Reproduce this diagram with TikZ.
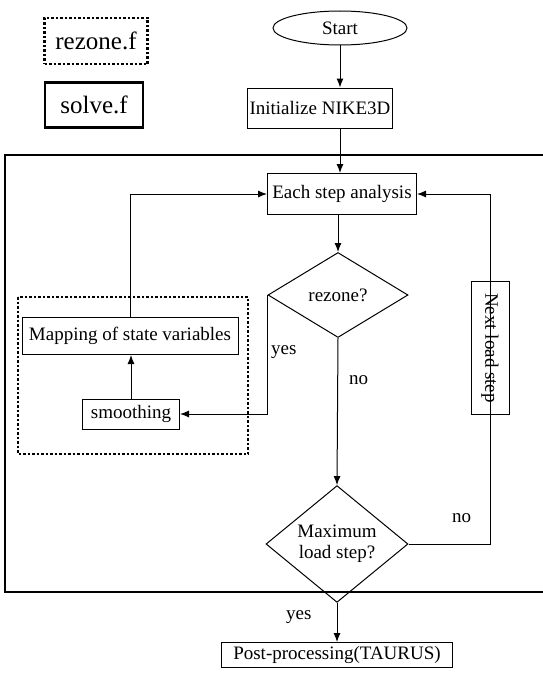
\documentclass[tikz,border=0pt]{standalone}
\usepackage{fontspec}
\setmainfont{Liberation Serif}
\usetikzlibrary{shapes.geometric, arrows.meta, positioning}

\begin{document}
\begin{tikzpicture}[x=1pt, y=-1pt,
        font=\fontsize{19}{21}\selectfont,
        procbox/.style={draw, line width=1pt, inner sep=2pt},
        decision/.style={diamond, draw, line width=1pt, inner sep=0pt, align=center},
        flow/.style={-{Latex[length=9pt, width=7pt]}, line width=1pt},
        link/.style={line width=1pt},
        frame/.style={line width=2.5pt},
        dotframe/.style={line width=2.5pt, dash pattern=on 2.5pt off 2pt},
        legend/.style={font=\fontsize{25}{28}\selectfont, inner sep=2pt}
    ]
        \useasboundingbox (0,0) rectangle (543,677);

        % Legend
        \node[legend, draw, dotframe, minimum width=103, minimum height=46] (rezonef) at (96,41) {rezone.f};
        \node[legend, draw, frame, minimum width=98, minimum height=45] (solvef) at (94,105) {solve.f};

        % Frames
        \draw[frame] (5,155) rectangle (550,592);
        \draw[dotframe] (18,297) rectangle (248,454);

        % Nodes
        \node[ellipse, draw, line width=1pt, minimum width=134, minimum height=34, inner sep=0pt] (start) at (340,28) {Start};
        \node[procbox, minimum width=145, minimum height=40] (init) at (320,108) {Initialize NIKE3D};
        \node[procbox, minimum width=149, minimum height=41] (each) at (342,194) {Each step analysis};
        \node[decision, minimum width=140, minimum height=85] (rezone) at (338,295) {rezone?};
        \node[procbox, minimum width=216, minimum height=37] (map) at (130,336) {Mapping of state variables};
        \node[procbox, minimum width=97, minimum height=30] (smooth) at (131,414) {smoothing};
        \node[procbox, rotate=-90, minimum width=133, minimum height=38] (next) at (490,348) {Next load step};
        \node[decision, minimum width=142, minimum height=92] (maxload) at (337,544) {Maximum\\load step?};
        \node[procbox, minimum width=231, minimum height=25, inner sep=1pt] (post) at (337,655) {Post-processing(TAURUS)};

        % Connectors
        \draw[flow] (start.south) -- (start.south |- init.north);
        \draw[flow] (start |- init.south) -- (start |- each.north);
        \draw[flow] (each.south -| rezone) -- (rezone.north);
        \draw[flow] (rezone.west) -- (rezone.west |- smooth.east) -- (smooth.east);
        \draw[flow] (smooth.north) -- (smooth.north |- map.south);
        \draw[flow] (map.north) -- (map.north |- each.west) -- (each.west);
        \draw[flow] (rezone.south) -- (maxload.north);
        \draw[link] (maxload.east) -- (maxload.east -| next.center) -- (next.west);
        \draw[flow] (next.east) -- (next.east |- each.east) -- (each.east);
        \draw[flow] (maxload.south) -- (post.north);

        % Labels
        \node[anchor=west, inner sep=0pt] (yesrezone) at (271,352) {yes};
        \node[anchor=west, inner sep=0pt] (norezone) at (349,380) {no};
        \node[anchor=west, inner sep=0pt] (nomax) at (452,518) {no};
        \node[anchor=west, inner sep=0pt] (yesmax) at (286,617) {yes};
    \end{tikzpicture}
\end{document}
